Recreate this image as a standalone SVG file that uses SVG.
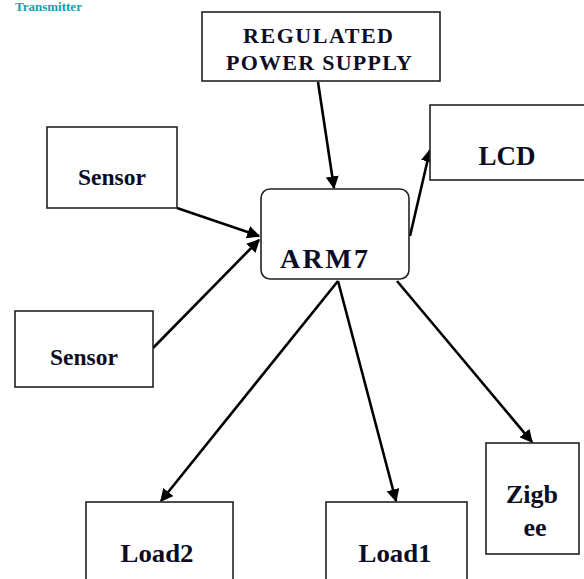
<svg xmlns="http://www.w3.org/2000/svg" width="584" height="579" viewBox="0 0 584 579">
<style>
.box{fill:#fff;stroke:#222;stroke-width:1.6}
.t{font-family:"Liberation Serif","DejaVu Serif","Times New Roman",serif;font-weight:bold;fill:#0d0d26;text-anchor:middle}
.c{stroke:#000;stroke-width:2.6;fill:none;marker-end:url(#ah)}
</style>
<defs>
<marker id="ah" viewBox="0 0 10 10" refX="9" refY="5" markerWidth="5" markerHeight="5" orient="auto" markerUnits="strokeWidth">
<path d="M0,0 L10,5 L0,10 z" fill="#000"/>
</marker>
</defs>
<rect width="584" height="579" fill="#fff"/>
<text x="15" y="11" font-family="'Liberation Serif','DejaVu Serif',serif" font-weight="bold" font-size="13" fill="#0aa3a8">Transmitter</text>
<g id="connectors">
<line class="c" x1="318" y1="82" x2="334" y2="188"/>
<line class="c" x1="177" y1="208" x2="259" y2="236"/>
<line class="c" x1="153" y1="348" x2="259" y2="240"/>
<line class="c" x1="410" y1="236" x2="430" y2="150"/>
<line class="c" x1="338" y1="281" x2="161" y2="501"/>
<line class="c" x1="338" y1="281" x2="396" y2="501"/>
<line class="c" x1="397" y1="281" x2="532" y2="442"/>
</g>
<g id="rps">
<rect class="box" x="202" y="12" width="238" height="69"/>
<text class="t" x="318" y="43" font-size="22" textLength="150" lengthAdjust="spacing">REGULATED</text>
<text class="t" x="319" y="70" font-size="22" textLength="186" lengthAdjust="spacing">POWER SUPPLY</text>
</g>
<g id="lcd">
<rect class="box" x="430" y="105" width="160" height="75"/>
<text class="t" x="507" y="165" font-size="27">LCD</text>
</g>
<g id="arm7">
<rect class="box" x="261" y="189" width="148" height="90" rx="9"/>
<text class="t" x="324" y="268" font-size="28" textLength="88" lengthAdjust="spacing">ARM7</text>
</g>
<g id="sensor1">
<rect class="box" x="47" y="127" width="130" height="81"/>
<text class="t" x="112" y="185" font-size="23" textLength="68" lengthAdjust="spacingAndGlyphs">Sensor</text>
</g>
<g id="sensor2">
<rect class="box" x="15" y="311" width="138" height="76"/>
<text class="t" x="84" y="365" font-size="23" textLength="68" lengthAdjust="spacingAndGlyphs">Sensor</text>
</g>
<g id="load2">
<rect class="box" x="86" y="502" width="147" height="90"/>
<text class="t" x="157" y="562" font-size="26" textLength="73" lengthAdjust="spacingAndGlyphs">Load2</text>
</g>
<g id="load1">
<rect class="box" x="326" y="502" width="141" height="90"/>
<text class="t" x="395" y="562" font-size="26" textLength="73" lengthAdjust="spacingAndGlyphs">Load1</text>
</g>
<g id="zigbee">
<rect class="box" x="486" y="443" width="93" height="111"/>
<text class="t" x="532" y="503" font-size="26">Zigb</text>
<text class="t" x="535" y="536" font-size="26">ee</text>
</g>
</svg>
